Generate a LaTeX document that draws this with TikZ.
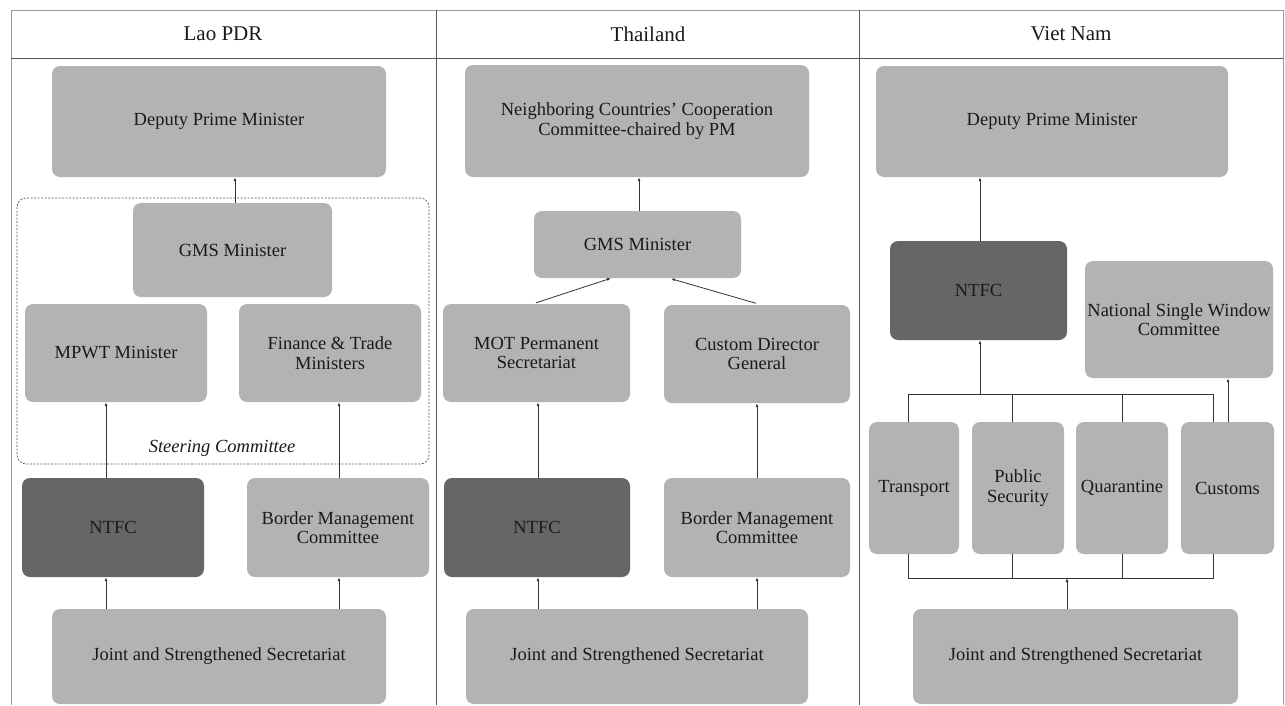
\documentclass[tikz,border=0pt]{standalone}
\usepackage{fontspec}
\setmainfont{Liberation Serif}
\usetikzlibrary{arrows.meta,calc}
\definecolor{boxgray}{HTML}{B3B3B3}
\definecolor{boxdark}{HTML}{666666}
\definecolor{framegray}{HTML}{9A9A9A}
\definecolor{rulegray}{HTML}{555555}
\definecolor{linkgray}{HTML}{333333}
\definecolor{inkblack}{HTML}{1A1A1A}
\newcommand{\bodyfont}{\fontsize{18.5}{19.5}\selectfont}
\newcommand{\headfont}{\fontsize{21}{23}\selectfont}
\tikzset{
  box/.style={rectangle, rounded corners=8pt, fill=boxgray, inner sep=0pt,
    align=center, font=\bodyfont, text=inkblack},
  darkbox/.style={box, fill=boxdark},
  hdr/.style={font=\headfont, text=inkblack, inner sep=0pt},
  arr/.style={draw=linkgray, line width=0.8pt, -{Latex[length=4pt,width=3pt]}},
  link/.style={draw=linkgray, line width=0.8pt},
  sz/.style 2 args={minimum width=#1pt, minimum height=#2pt}
}
\begin{document}
\begin{tikzpicture}[x=1pt, y=-1pt]
\useasboundingbox (0,0) rectangle (1285,705);

% table frame and column rules
\draw[framegray, line width=0.9pt] (11,705) -- (11,10) -- (1283,10) -- (1283,705);
\draw[rulegray, line width=0.8pt] (11,58) -- (1283,58);
\draw[rulegray, line width=0.8pt] (436,10) -- (436,705);
\draw[rulegray, line width=0.8pt] (859,10) -- (859,705);

% column headings
\node[hdr] (hlao) at (223,34) {Lao PDR};
\node[hdr] (htha) at (648,34) {Thailand};
\node[hdr] (hvie) at (1071,34) {Viet Nam};

% ---------------- Lao PDR ----------------
\node[box, sz={334}{111}] (ldpm) at (219,121.5) {Deputy Prime Minister};
\draw[rulegray, line width=0.7pt, dash pattern=on 2pt off 1.5pt, rounded corners=9pt]
  (17,198) rectangle (429,464);
\node[font=\bodyfont\itshape, text=inkblack, inner sep=0pt] (lsteer) at (222,448) {Steering Committee};
\node[box, sz={199}{94}] (lgms) at (232.5,250) {GMS Minister};
\node[box, sz={182}{98}] (lmpwt) at (116,353) {MPWT Minister};
\node[box, sz={182}{98}] (lfin) at (330,353) {Finance \& Trade\\Ministers};
\node[darkbox, sz={182}{99}] (lntfc) at (113,527.5) {NTFC};
\node[box, sz={182}{99}] (lbmc) at (338,527.5) {Border Management\\Committee};
\node[box, sz={334}{95}] (ljoint) at (219,656.5) {Joint and Strengthened Secretariat};

\coordinate (lxa) at (106,0);
\coordinate (lxb) at (339,0);
\coordinate (lxc) at (235,0);
\draw[arr] (lgms.north -| lxc) -- (ldpm.south -| lxc);
\draw[arr] (lntfc.north -| lxa) -- (lmpwt.south -| lxa);
\draw[arr] (lbmc.north -| lxb) -- (lfin.south -| lxb);
\draw[arr] (ljoint.north -| lxa) -- (lntfc.south -| lxa);
\draw[arr] (ljoint.north -| lxb) -- (lbmc.south -| lxb);

% ---------------- Thailand ----------------
\node[box, sz={344}{112}] (tdpm) at (637,121) {Neighboring Countries’ Cooperation\\Committee-chaired by PM};
\node[box, sz={207}{67}] (tgms) at (637.5,244.5) {GMS Minister};
\node[box, sz={187}{98}] (tmot) at (536.5,353) {MOT Permanent\\Secretariat};
\node[box, sz={186}{98}] (tcus) at (757,354) {Custom Director\\General};
\node[darkbox, sz={186}{99}] (tntfc) at (537,527.5) {NTFC};
\node[box, sz={186}{99}] (tbmc) at (757,527.5) {Border Management\\Committee};
\node[box, sz={342}{95}] (tjoint) at (637,656.5) {Joint and Strengthened Secretariat};

\coordinate (txa) at (538,0);
\coordinate (txb) at (757,0);
\coordinate (txc) at (639,0);
\draw[arr] (tgms.north -| txc) -- (tdpm.south -| txc);
\draw[arr] ($(tmot.north)+(-0.5,-1)$) -- ($(tgms.south)+(-26.5,0)$);
\draw[arr] ($(tcus.north)+(-1,-1.5)$) -- ($(tgms.south)+(33.5,0.5)$);
\draw[arr] (tntfc.north -| txa) -- (tmot.south -| txa);
\draw[arr] (tbmc.north -| txb) -- (tcus.south -| txb);
\draw[arr] (tjoint.north -| txa) -- (tntfc.south -| txa);
\draw[arr] (tjoint.north -| txb) -- (tbmc.south -| txb);

% ---------------- Viet Nam ----------------
\node[box, sz={352}{111}] (vdpm) at (1052,121.5) {Deputy Prime Minister};
\node[darkbox, sz={177}{99}] (vntfc) at (978.5,290.5) {NTFC};
\node[box, sz={188}{117}] (vnsw) at (1179,319.5) {National Single Window\\Committee};
\node[box, sz={90}{132}] (vtr) at (914,488) {Transport};
\node[box, sz={92}{132}] (vps) at (1018,488) {Public\\Security};
\node[box, sz={92}{132}] (vqu) at (1122,488) {Quarantine};
\node[box, sz={93}{132}] (vcu) at (1227.5,488) {Customs};
\node[box, sz={325}{95}] (vjoint) at (1075.5,656.5) {Joint and Strengthened Secretariat};

% upper and lower distribution bars
\coordinate (vtop) at (0,394);
\coordinate (vbot) at (0,578);
\coordinate (vx1) at (908,0);
\coordinate (vx2) at (1012,0);
\coordinate (vx3) at (1122,0);
\coordinate (vx4) at (1213,0);
\coordinate (vxu) at (980,0);
\coordinate (vxn) at (1228,0);
\coordinate (vxj) at (1067,0);

\draw[link] (vtr.north -| vx1) -- (vtop -| vx1) -- (vtop -| vx4) -- (vcu.north -| vx4);
\draw[link] (vps.north -| vx2) -- (vtop -| vx2);
\draw[link] (vqu.north -| vx3) -- (vtop -| vx3);
\draw[link] (vtr.south -| vx1) -- (vbot -| vx1) -- (vbot -| vx4) -- (vcu.south -| vx4);
\draw[link] (vps.south -| vx2) -- (vbot -| vx2);
\draw[link] (vqu.south -| vx3) -- (vbot -| vx3);

\draw[arr] (vntfc.north -| vxu) -- (vdpm.south -| vxu);
\draw[arr] (vtop -| vxu) -- (vntfc.south -| vxu);
\draw[arr] (vcu.north -| vxn) -- (vnsw.south -| vxn);
\draw[arr] (vjoint.north -| vxj) -- (vbot -| vxj);
\end{tikzpicture}
\end{document}
